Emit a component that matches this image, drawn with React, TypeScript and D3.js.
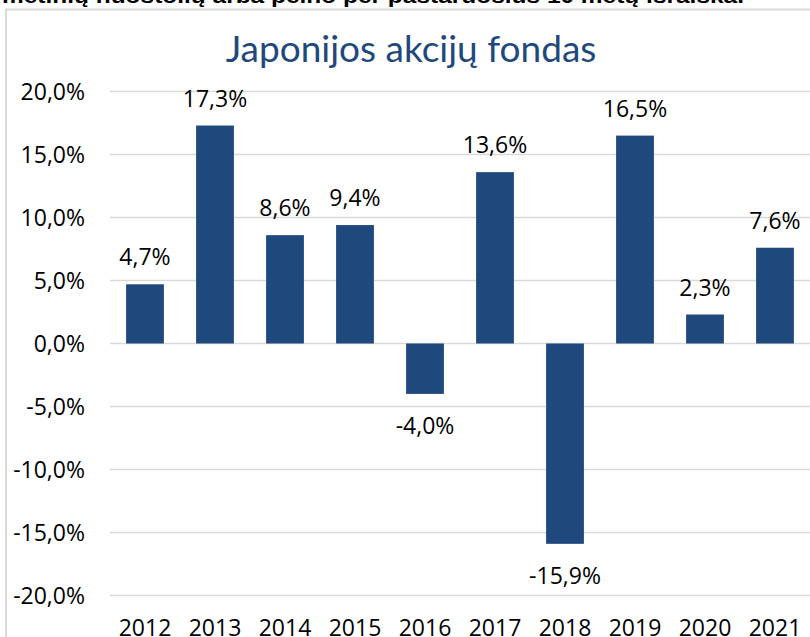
import * as d3 from "d3";
import React from "react";

const years = ["2012", "2013", "2014", "2015", "2016", "2017", "2018", "2019", "2020", "2021"];
const returns = [4.7, 17.3, 8.6, 9.4, -4.0, 13.6, -15.9, 16.5, 2.3, 7.6];
const yTicks = [20, 15, 10, 5, 0, -5, -10, -15, -20];

const title = "Japonijos akcijų fondas";
const caption = "metinių nuostolių arba pelno per pastaruosius 10 metų išraiška.";

const W = 810;
const H = 637;
const barColor = "#1F497D";
const fmt = (v: number) => v.toFixed(1).replace(".", ",") + "%";

export default function App() {
    const x = d3
        .scaleBand<string>()
        .domain(years)
        .range([110, 810])
        .paddingInner(0.46)
        .paddingOuter(0.23);

    const y = d3.scaleLinear().domain([-20, 20]).range([595.5, 91.5]);

    const font = "'Open Sans', 'DejaVu Sans', sans-serif";

    return (
        <svg
            width={W}
            height={H}
            style={{ position: "absolute", left: 0, top: 0, background: "#fff" }}
        >
            {/* cut-off caption above the chart */}
            <text
                x={2}
                y={2.5}
                fontFamily="'Liberation Sans', Arial, sans-serif"
                fontWeight="bold"
                fontSize={20}
                textLength={742}
                lengthAdjust="spacingAndGlyphs"
                fill="#000"
            >
                {caption}
            </text>

            {/* chart frame */}
            <rect x={6} y={9.5} width={W + 20} height={H + 20} fill="#fff" stroke="#d9d9d9" strokeWidth={2} />

            <text
                x={W / 2 + 6}
                y={62}
                textAnchor="middle"
                fontFamily="Lato, 'Open Sans', sans-serif"
                fontSize={37}
                fill={barColor}
            >
                {title}
            </text>

            {yTicks.map((t) => (
                <g key={t}>
                    <line x1={110} x2={W} y1={y(t)} y2={y(t)} stroke="#d9d9d9" strokeWidth={1.5} />
                    <text
                        x={85}
                        y={y(t) + 8}
                        textAnchor="end"
                        fontFamily={font}
                        fontSize={23}
                        fill="#000"
                    >
                        {fmt(t)}
                    </text>
                </g>
            ))}

            {years.map((yr, i) => {
                const v = returns[i];
                const x0 = x(yr)!;
                const top = y(Math.max(0, v));
                const bottom = y(Math.min(0, v));
                const cx = x0 + x.bandwidth() / 2;
                return (
                    <g key={yr}>
                        <rect x={x0} y={top} width={x.bandwidth()} height={bottom - top} fill={barColor} />
                        <text
                            x={cx}
                            y={v >= 0 ? top - 19 : bottom + 40}
                            textAnchor="middle"
                            fontFamily={font}
                            fontSize={23}
                            fill="#000"
                        >
                            {fmt(v)}
                        </text>
                        <text
                            x={cx}
                            y={636}
                            textAnchor="middle"
                            fontFamily={font}
                            fontSize={23}
                            fill="#000"
                        >
                            {yr}
                        </text>
                    </g>
                );
            })}
        </svg>
    );
}
